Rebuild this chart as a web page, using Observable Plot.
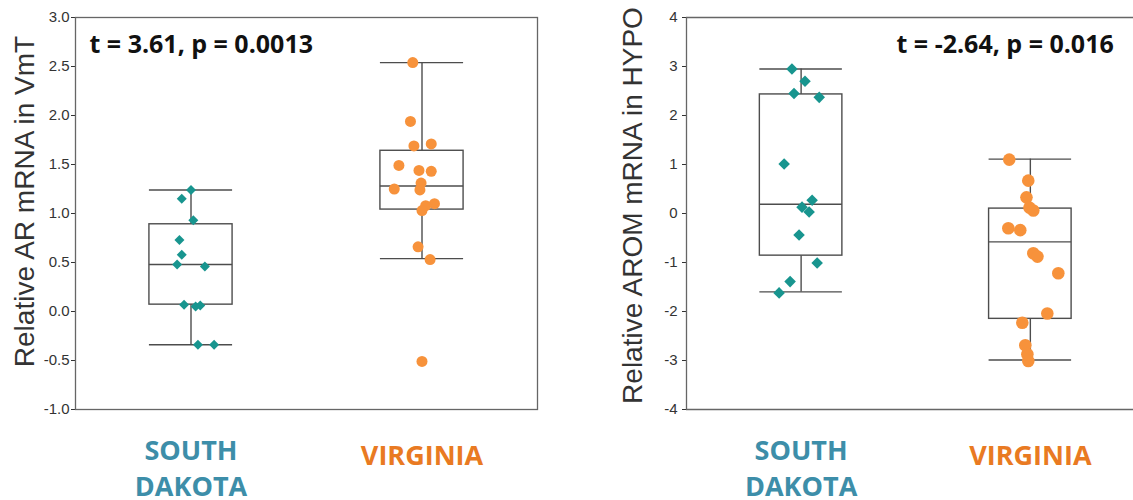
<!DOCTYPE html>
<html>
<head>
<meta charset="utf-8">
<script src="https://cdn.jsdelivr.net/npm/d3@7"></script>
<script src="https://cdn.jsdelivr.net/npm/@observablehq/plot@0.6"></script>
<style>
  html, body { margin: 0; padding: 0; background: white; }
  #wrap { display: flex; width: 1133px; height: 500px; overflow: hidden; }
  #wrap svg { flex: none; }
</style>
</head>
<body>
<div id="wrap"></div>
<script>
// ---------- data ----------
const groupPos = [1, 2];
const groupLabels = ["SOUTH\nDAKOTA", "VIRGINIA"];
const groupLabelColors = ["#3d8ea9", "#e97a22"];

// Panel A: Relative AR mRNA in VmT
const arTicks = [-1, -0.5, 0, 0.5, 1, 1.5, 2, 2.5, 3];
const arLo  = [-0.34, 0.54];
const arQ1  = [0.07, 1.04];
const arMed = [0.48, 1.28];
const arQ3  = [0.89, 1.64];
const arHi  = [1.24, 2.54];
const arSD = [1.24, 1.15, 0.93, 0.73, 0.58, 0.48, 0.46, 0.07, 0.05, 0.06, -0.34, -0.34];
const arSDJitter = [0.00, -0.04, 0.01, -0.05, -0.04, -0.06, 0.06, -0.03, 0.02, 0.04, 0.03, 0.10];
const arVA = [2.54, 1.94, 1.69, 1.71, 1.49, 1.44, 1.43, 1.31, 1.25, 1.24, 1.10, 1.08, 1.03, 0.66, 0.53, -0.51];
const arVAJitter = [-0.04, -0.05, -0.035, 0.04, -0.10, -0.013, 0.04, -0.004, -0.12, -0.009, 0.054, 0.016, 0, -0.017, 0.035, 0];
const arStat = "t = 3.61, p = 0.0013";
const arLabel = "Relative AR mRNA in VmT";

// Panel B: Relative AROM mRNA in HYPO
const aromTicks = [-4, -3, -2, -1, 0, 1, 2, 3, 4];
const aromLo  = [-1.60, -2.99];
const aromQ1  = [-0.86, -2.15];
const aromMed = [0.19, -0.58];
const aromQ3  = [2.43, 0.10];
const aromHi  = [2.95, 1.11];
const aromSD = [2.95, 2.70, 2.45, 2.37, 1.01, 0.27, 0.13, 0.03, -0.44, -1.01, -1.39, -1.62];
const aromSDJitter = [-0.04, 0.017, -0.031, 0.079, -0.074, 0.048, 0.004, 0.035, -0.009, 0.07, -0.048, -0.096];
const aromVA = [1.10, 0.67, 0.33, 0.12, 0.06, -0.30, -0.34, -0.81, -0.88, -1.22, -2.04, -2.23, -2.69, -2.87, -3.01];
const aromVAJitter = [-0.092, -0.009, -0.017, -0.004, 0.013, -0.096, -0.044, 0.013, 0.031, 0.122, 0.074, -0.035, -0.022, -0.013, -0.009];
const aromStat = "t = -2.64, p = 0.016";
const aromLabel = "Relative AROM mRNA in HYPO";

// ---------- styles ----------
const teal = "#18958f";
const orange = "#f7923b";
const boxStroke = "#4d4d4d";
const frameStroke = "#666";
const half = 0.18;

function panel(o) {
  const boxes = groupPos.map((p, i) => ({pos: p, lo: o.lo[i], q1: o.q1[i], med: o.med[i], q3: o.q3[i], hi: o.hi[i]}));
  const sd = o.sd.map((v, i) => ({x: 1 + o.sdJ[i], y: v}));
  const va = o.va.map((v, i) => ({x: 2 + o.vaJ[i], y: v}));
  const cats = groupPos.map((p, i) => ({pos: p, label: groupLabels[i], color: groupLabelColors[i]}));
  const catStyle = {x: "pos", text: "label", fill: "color", frameAnchor: "bottom", textAnchor: "middle", lineAnchor: "top", lineHeight: 1.3,
      fontFamily: "'Open Sans', 'Noto Sans', sans-serif", fontWeight: 700, fontSize: 27};
  const marks = [
    ...o.frameMarks,
    Plot.ruleX(boxes, {x: "pos", y1: "lo", y2: "q1", stroke: boxStroke, strokeWidth: 1.4}),
    Plot.ruleX(boxes, {x: "pos", y1: "q3", y2: "hi", stroke: boxStroke, strokeWidth: 1.4}),
    Plot.rect(boxes, {x1: d => d.pos - half, x2: d => d.pos + half, y1: "q1", y2: "q3", fill: "white", stroke: boxStroke, strokeWidth: 1.4}),
    Plot.ruleY(boxes, {x1: d => d.pos - half, x2: d => d.pos + half, y: "med", stroke: boxStroke, strokeWidth: 1.4}),
    Plot.ruleY(boxes, {x1: d => d.pos - half, x2: d => d.pos + half, y: "lo", stroke: boxStroke, strokeWidth: 1.4}),
    Plot.ruleY(boxes, {x1: d => d.pos - half, x2: d => d.pos + half, y: "hi", stroke: boxStroke, strokeWidth: 1.4}),
    Plot.dot(sd, {x: "x", y: "y", symbol: "diamond2", r: o.dr, fill: teal, stroke: "none"}),
    Plot.dot(va, {x: "x", y: "y", symbol: "circle", r: o.cr, fill: orange, stroke: "none"}),
    Plot.text([o.stat], {text: d => d, frameAnchor: "top-left", textAnchor: "start", lineAnchor: "top", dx: o.statDx, dy: 18,
      fontFamily: "'Open Sans', 'Noto Sans', sans-serif", fontWeight: 700, fontSize: 25, fill: "#111"}),
    Plot.text([o.label], {text: d => d, frameAnchor: "left", textAnchor: "middle", lineAnchor: "middle", rotate: -90, dx: o.labelDx, dy: o.labelDy,
      fontFamily: "'Liberation Sans', Arial, sans-serif", fontSize: 28, fill: "#333"}),
    Plot.text(cats.slice(0, 1), {...catStyle, dy: 26}),
    Plot.text(cats.slice(1), {...catStyle, dy: 31})
  ];
  return Plot.plot({
    width: o.width, height: 500,
    marginLeft: o.ml, marginRight: o.mr, marginTop: 17, marginBottom: 91,
    style: {fontFamily: "'Liberation Sans', Arial, sans-serif", fontSize: "15px", color: "#333", background: "white", overflow: "visible"},
    x: {domain: o.xDomain, axis: null},
    y: {domain: o.yDomain, ticks: o.ticks, tickFormat: o.fmt, tickSize: 4, tickPadding: o.tp, label: null},
    marks
  });
}

const left = panel({
  width: 560, ml: 75, mr: 23, xDomain: [0.5, 2.5], yDomain: [-1, 3], ticks: arTicks, fmt: d => d.toFixed(1), tp: 2,
  lo: arLo, q1: arQ1, med: arMed, q3: arQ3, hi: arHi,
  sd: arSD, sdJ: arSDJitter, va: arVA, vaJ: arVAJitter,
  dr: 4.5, cr: 5.5, stat: arStat, statDx: 14, label: arLabel, labelDx: -50, labelDy: -12,
  frameMarks: [Plot.frame({stroke: frameStroke, strokeWidth: 1.3})]
});
const right = panel({
  width: 573, ml: 126, mr: 0, xDomain: [0.5, 2.45], yDomain: [-4, 4], ticks: aromTicks, fmt: d => String(d), tp: 5,
  lo: aromLo, q1: aromQ1, med: aromMed, q3: aromQ3, hi: aromHi,
  sd: aromSD, sdJ: aromSDJitter, va: aromVA, vaJ: aromVAJitter,
  dr: 5.2, cr: 6.3, stat: aromStat, statDx: 210, label: aromLabel, labelDx: -53, labelDy: -8,
  frameMarks: [
    Plot.ruleY([-4, 4], {stroke: frameStroke, strokeWidth: 1.3}),
    Plot.ruleX([0.5], {stroke: frameStroke, strokeWidth: 1.3})
  ]
});
document.getElementById("wrap").append(left, right);
</script>
</body>
</html>
